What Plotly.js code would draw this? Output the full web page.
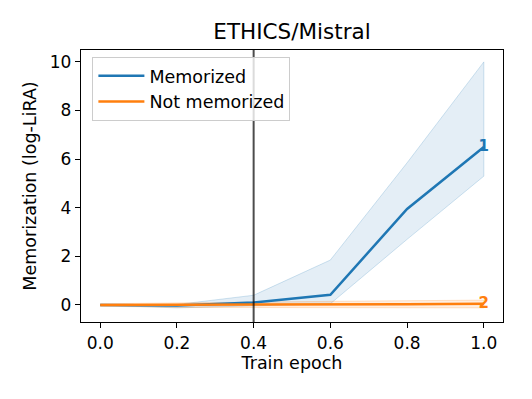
<!DOCTYPE html>
<html>
<head>
<meta charset="utf-8">
<script src="https://cdn.plot.ly/plotly-3.0.1.min.js"></script>
<style>
  body { margin: 0; background: #fff; }
  #myDiv { width: 532px; height: 399px; }
</style>
</head>
<body>
<div id="myDiv"></div>
<script>
var epochs = [0.0, 0.2, 0.4, 0.6, 0.8, 1.0];

var memMean  = [0.0, -0.02, 0.1, 0.42, 3.95, 6.5];
var memUpper = [0.0, 0.02, 0.4, 1.85, 5.85, 10.0];
var memLower = [0.0, -0.12, -0.05, 0.05, 2.7, 5.3];

var notMean  = [0.0, 0.0, 0.0, 0.02, 0.03, 0.05];
var notUpper = [0.05, 0.1, 0.12, 0.15, 0.18, 0.2];
var notLower = [-0.05, -0.1, -0.12, -0.12, -0.12, -0.12];

var cutEpoch = 0.4;

var blue = "rgb(31,119,180)";
var orange = "rgb(255,127,14)";

var band = function(lo, hi, color, edge) {
  return {
    x: epochs.concat(epochs.slice().reverse()),
    y: hi.concat(lo.slice().reverse()),
    fill: "toself",
    fillcolor: color,
    line: {color: edge, width: 1},
    mode: "lines",
    hoverinfo: "skip",
    showlegend: false,
    type: "scatter"
  };
};

var endLabel = function(y, label, color) {
  return {
    x: [epochs[epochs.length - 1]],
    y: [y[y.length - 1]],
    mode: "text",
    text: ["<b>" + label + "</b>"],
    textposition: "middle center",
    textfont: {color: color, size: 15, family: "DejaVu Sans"},
    showlegend: false,
    type: "scatter"
  };
};

var memorized = {
  x: epochs, y: memMean,
  mode: "lines",
  line: {color: blue, width: 2.5},
  name: "Memorized",
  type: "scatter"
};

var notMemorized = {
  x: epochs, y: notMean,
  mode: "lines",
  line: {color: orange, width: 2.5},
  name: "Not memorized",
  type: "scatter"
};

var data = [
  band(memLower, memUpper, "rgba(31,119,180,0.12)", "rgba(31,119,180,0.2)"),
  band(notLower, notUpper, "rgba(255,127,14,0.12)", "rgba(255,127,14,0.2)"),
  memorized, notMemorized,
  endLabel(memMean, "1", blue),
  endLabel(notMean, "2", orange)
];

var axisCommon = {
  showgrid: false,
  zeroline: false,
  showline: true,
  mirror: true,
  linecolor: "black",
  linewidth: 1.2,
  ticks: "outside",
  ticklen: 5,
  tickcolor: "black",
  tickfont: {size: 17, color: "black"}
};

var layout = {
  width: 532, height: 399,
  margin: {l: 81, r: 29, t: 50, b: 77},
  paper_bgcolor: "white",
  plot_bgcolor: "white",
  font: {family: "DejaVu Sans", color: "black"},
  title: {text: "ETHICS/Mistral", font: {size: 21.5}, xref: "paper", x: 0.5, xanchor: "center", y: 0.922, yanchor: "middle"},
  xaxis: Object.assign({}, axisCommon, {
    range: [-0.05, 1.05],
    tickvals: epochs,
    ticktext: epochs.map(function(v) { return v.toFixed(1); }),
    title: {text: "Train epoch", font: {size: 17.5}, standoff: 4}
  }),
  yaxis: Object.assign({}, axisCommon, {
    range: [-0.7, 10.49],
    tickvals: [0, 2, 4, 6, 8, 10],
    title: {text: "Memorization (log-LiRA)", font: {size: 17.5}, standoff: 8}
  }),
  shapes: [{
    type: "line", xref: "x", yref: "paper",
    x0: cutEpoch, x1: cutEpoch, y0: 0, y1: 1,
    line: {color: "rgba(0,0,0,0.7)", width: 2}
  }],
  legend: {
    x: 0.027, y: 0.975, xanchor: "left", yanchor: "top",
    bgcolor: "rgba(255,255,255,0.8)",
    bordercolor: "rgb(204,204,204)", borderwidth: 1,
    font: {size: 17.5},
    itemwidth: 46,
    tracegroupgap: 0
  },
  showlegend: true
};

Plotly.newPlot("myDiv", data, layout, {displayModeBar: false, staticPlot: true});
</script>
</body>
</html>
